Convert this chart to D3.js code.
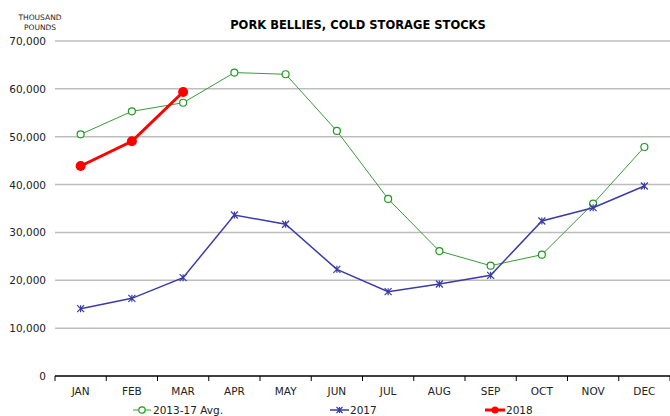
<!DOCTYPE html>
<html>
<head>
<meta charset="utf-8">
<script src="https://cdn.jsdelivr.net/npm/d3@7"></script>
<style>
  body { margin: 0; background: #fff; }
  text { font-family: "DejaVu Sans", sans-serif; }
</style>
</head>
<body>
<script>
// data (thousand pounds)
var months = ["JAN","FEB","MAR","APR","MAY","JUN","JUL","AUG","SEP","OCT","NOV","DEC"];
var avg1317 = [50500, 55300, 57100, 63400, 63050, 51200, 37000, 26100, 23050, 25350, 36000, 47850];
var y2017 = [14070, 16230, 20550, 33640, 31700, 22290, 17620, 19220, 21040, 32390, 35170, 39700];
var y2018 = [43880, 49040, 59340];
var yTicks = [0, 10000, 20000, 30000, 40000, 50000, 60000, 70000];

var W = 670, H = 416;
var margin = { top: 41, right: 0, bottom: 40, left: 55 },
    width = W - margin.left - margin.right,
    height = H - margin.top - margin.bottom;

var svg = d3.select("body").append("svg")
    .attr("width", W)
    .attr("height", H);

var g = svg.append("g")
    .attr("transform", "translate(" + margin.left + "," + margin.top + ")");

var x = d3.scaleBand().domain(months).range([0, width]);
var y = d3.scaleLinear().domain([0, 70000]).range([height, 0]);
var cx = function (i) { return x(months[i]) + x.bandwidth() / 2; };

// title
svg.append("text")
    .attr("x", 358).attr("y", 29)
    .attr("text-anchor", "middle")
    .style("font-size", "11.5px").style("font-weight", "bold")
    .text("PORK BELLIES, COLD STORAGE STOCKS");

svg.append("text").attr("x", 40).attr("y", 20).attr("text-anchor", "middle")
    .style("font-size", "7.5px").attr("fill", "#222").text("THOUSAND");
svg.append("text").attr("x", 40).attr("y", 30).attr("text-anchor", "middle")
    .style("font-size", "7.5px").attr("fill", "#222").text("POUNDS");

// gridlines
g.selectAll(".grid")
    .data(yTicks.filter(function (d) { return d > 0; }))
    .enter().append("line")
    .attr("x1", 0).attr("x2", width)
    .attr("y1", function (d) { return y(d); })
    .attr("y2", function (d) { return y(d); })
    .attr("stroke", "#bdbdbd").attr("stroke-width", 1.5);

// y labels
g.selectAll(".ylab")
    .data(yTicks)
    .enter().append("text")
    .attr("x", -9)
    .attr("y", function (d) { return y(d) + 4; })
    .attr("text-anchor", "end")
    .style("font-size", "10.5px").attr("fill", "#222")
    .text(function (d) { return d3.format(",")(d); });

// x axis
var xAxis = g.append("g")
    .attr("transform", "translate(0," + height + ")");
xAxis.append("line").attr("x1", 0).attr("x2", width)
    .attr("stroke", "#000").attr("stroke-width", 1.5);
xAxis.selectAll(".tk")
    .data(d3.range(months.length + 1))
    .enter().append("line")
    .attr("x1", function (i) { return i * x.step(); })
    .attr("x2", function (i) { return i * x.step(); })
    .attr("y1", 0).attr("y2", 5)
    .attr("stroke", "#000");
xAxis.selectAll(".xl")
    .data(months)
    .enter().append("text")
    .attr("x", function (d) { return x(d) + x.bandwidth() / 2; })
    .attr("y", 19)
    .attr("text-anchor", "middle")
    .style("font-size", "10.5px").attr("fill", "#222")
    .text(function (d) { return d; });

var line = d3.line()
    .x(function (d, i) { return cx(i); })
    .y(function (d) { return y(d); });

// 2013-17 avg
g.append("path").datum(avg1317).attr("d", line)
    .attr("fill", "none").attr("stroke", "#3a9a3a").attr("stroke-width", 1);
g.selectAll(".avgpt").data(avg1317).enter().append("circle")
    .attr("cx", function (d, i) { return cx(i); })
    .attr("cy", function (d) { return y(d); })
    .attr("r", 3.5).attr("fill", "#fff").attr("stroke", "#229922").attr("stroke-width", 1.2);

// 2017
var xmark = function (sel, s) {
    sel.append("path")
        .attr("d", "M" + (-s) + "," + (-s) + "L" + s + "," + s + "M" + (-s) + "," + s + "L" + s + "," + (-s) + "M0," + (-s) + "L0," + s)
        .attr("stroke", "#3b3ba8").attr("stroke-width", 1.2).attr("fill", "none");
};
g.append("path").datum(y2017).attr("d", line)
    .attr("fill", "none").attr("stroke", "#3b3ba8").attr("stroke-width", 1.5);
g.selectAll(".p17").data(y2017).enter().append("g")
    .attr("transform", function (d, i) { return "translate(" + cx(i) + "," + y(d) + ")"; })
    .each(function () { xmark(d3.select(this), 3.5); });

// 2018
g.append("path").datum(y2018).attr("d", line)
    .attr("fill", "none").attr("stroke", "#ff0000").attr("stroke-width", 3);
g.selectAll(".p18").data(y2018).enter().append("circle")
    .attr("cx", function (d, i) { return cx(i); })
    .attr("cy", function (d) { return y(d); })
    .attr("r", 5).attr("fill", "#ff0000");

// legend
var leg = svg.append("g").attr("transform", "translate(0,410)");
leg.append("line").attr("x1", 133).attr("x2", 151).attr("stroke", "#3a9a3a").attr("stroke-width", 1);
leg.append("circle").attr("cx", 142).attr("cy", 0).attr("r", 3.2)
    .attr("fill", "#fff").attr("stroke", "#229922").attr("stroke-width", 1.2);
leg.append("text").attr("x", 153).attr("y", 4).style("font-size", "10.5px").attr("fill", "#222").text("2013-17 Avg.");

leg.append("line").attr("x1", 330).attr("x2", 349).attr("stroke", "#3b3ba8").attr("stroke-width", 1.5);
var lx = leg.append("g").attr("transform", "translate(339.5,0)");
xmark(lx, 3);
leg.append("text").attr("x", 350).attr("y", 4).style("font-size", "10.5px").attr("fill", "#222").text("2017");

leg.append("line").attr("x1", 485).attr("x2", 505).attr("stroke", "#ff0000").attr("stroke-width", 3);
leg.append("circle").attr("cx", 495).attr("cy", 0).attr("r", 3.5).attr("fill", "#ff0000");
leg.append("text").attr("x", 506).attr("y", 4).style("font-size", "10.5px").attr("fill", "#222").text("2018");
</script>
</body>
</html>
